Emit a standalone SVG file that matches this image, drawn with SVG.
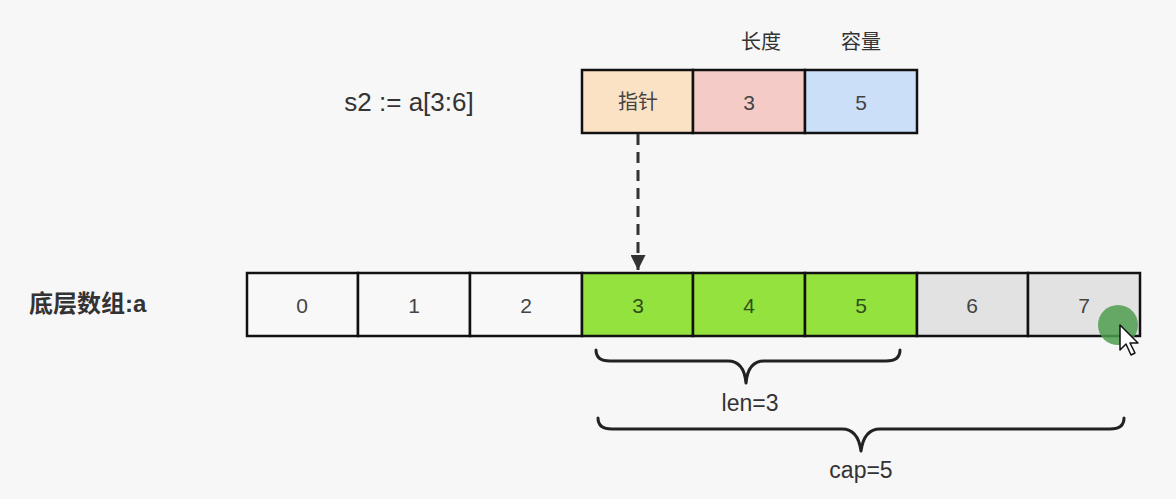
<svg xmlns="http://www.w3.org/2000/svg" width="1176" height="499" viewBox="0 0 1176 499">
<defs>
<style>
.t{font-family:"Liberation Sans","Noto Sans CJK SC",Arial,sans-serif;fill:#333;}
.c{font-size:21px;text-anchor:middle;dominant-baseline:central;fill:#444;}
.cell{stroke:#111;stroke-width:2.5;}
.w{fill:#f8f8f8;}
.g{fill:#94e23e;}
.gr{fill:#e2e2e2;}
.brace{fill:none;stroke:#222;stroke-width:3;stroke-linecap:round;stroke-linejoin:round;}
</style>
<marker id="ah" viewBox="0 0 10 10" refX="10" refY="5" markerWidth="24" markerHeight="15" markerUnits="userSpaceOnUse" orient="auto">
<path d="M0,0 L10,5 L0,10 Z" fill="#333"/>
</marker>
</defs>
<rect width="1176" height="499" fill="#f7f7f7"/>
<g id="labels">
<text class="t" x="409" y="111" font-size="26" text-anchor="middle">s2 := a[3:6]</text>
<text class="t" x="29" y="312" font-size="24" font-weight="bold">底层数组:a</text>
<text class="t" x="761" y="49" font-size="20" text-anchor="middle">长度</text>
<text class="t" x="861" y="49" font-size="20" text-anchor="middle">容量</text>
</g>
<g id="slice">
<rect class="cell" x="582" y="70" width="111" height="63" fill="#fbe2c5"/>
<rect class="cell" x="693" y="70" width="112" height="63" fill="#f5cbc8"/>
<rect class="cell" x="805" y="70" width="112" height="63" fill="#cbe0f8"/>
<text class="t c" x="638" y="102" style="font-size:20px">指针</text>
<text class="t c" x="749" y="102">3</text>
<text class="t c" x="861" y="102">5</text>
</g>
<g id="array">
<rect class="cell w" x="247" y="273" width="111" height="63"/>
<rect class="cell w" x="358" y="273" width="112" height="63"/>
<rect class="cell w" x="470" y="273" width="112" height="63"/>
<rect class="cell g" x="582" y="273" width="111" height="63"/>
<rect class="cell g" x="693" y="273" width="112" height="63"/>
<rect class="cell g" x="805" y="273" width="112" height="63"/>
<rect class="cell gr" x="917" y="273" width="111" height="63" stroke="#333"/>
<rect class="cell gr" x="1028" y="273" width="112" height="63" stroke="#333"/>
<text class="t c" x="302" y="305">0</text>
<text class="t c" x="414" y="305">1</text>
<text class="t c" x="526" y="305">2</text>
<text class="t c" x="638" y="305" style="fill:#2e4f1a">3</text>
<text class="t c" x="749" y="305" style="fill:#2e4f1a">4</text>
<text class="t c" x="861" y="305" style="fill:#2e4f1a">5</text>
<text class="t c" x="972" y="305">6</text>
<text class="t c" x="1084" y="305">7</text>
</g>
<g id="connectors">
<line x1="638" y1="134" x2="638" y2="270" stroke="#333" stroke-width="3" stroke-dasharray="11,7" marker-end="url(#ah)"/>
<path class="brace" d="M596,350 Q596,361 610,361 L728,361 Q744,361 746,383 Q748,361 764,361 L886,361 Q900,361 900,350"/>
<path class="brace" d="M598,418 Q598,429 612,429 L842,429 Q858,429 861,451 Q864,429 880,429 L1110,429 Q1124,429 1124,418"/>
</g>
<g id="brace-labels">
<text class="t" x="750" y="411" font-size="23" text-anchor="middle">len=3</text>
<text class="t" x="861" y="478" font-size="23" text-anchor="middle">cap=5</text>
</g>
<g id="cursor">
<circle cx="1118" cy="325" r="20" fill="#4f9e4f" opacity="0.85"/>
<path d="M1120,325 L1120,350 L1126,344 L1131,355 L1135,353 L1130,343 L1138,343 Z" fill="#fff" stroke="#111" stroke-width="1.5" stroke-linejoin="round"/>
</g>
</svg>
